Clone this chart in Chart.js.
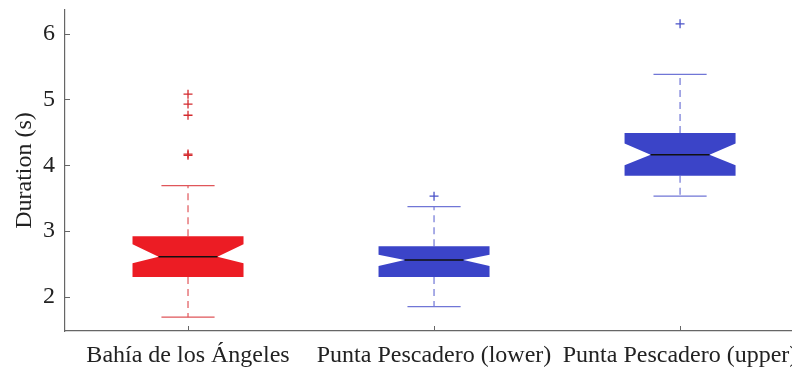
<!DOCTYPE html>
<html><head><meta charset="utf-8">
<script src="https://cdn.jsdelivr.net/npm/chart.js@4/dist/chart.umd.min.js"></script>
<style>html,body{margin:0;padding:0;background:#fff;}#wrap{width:792px;height:367px;}</style>
</head><body><div id="wrap"><canvas id="c" width="792" height="367"></canvas></div>
<script>
const categories = ["Bahía de los Ángeles", "Punta Pescadero (lower)", "Punta Pescadero (upper)"];
const whiskerLow  = [1.69, 1.85, 3.53];
const q1          = [2.30, 2.30, 3.84];
const notchLow    = [2.51, 2.47, 4.00];
const median      = [2.61, 2.56, 4.16];
const notchHigh   = [2.80, 2.64, 4.33];
const q3          = [2.92, 2.77, 4.49];
const whiskerHigh = [3.69, 3.37, 5.38];
const outliers    = [[5.08, 4.93, 4.76, 4.17, 4.15], [3.53], [6.15]];
const yTicks = [2, 3, 4, 5, 6];
const fillColors = ["#EC1C24", "#3B44C8", "#3B44C8"];
const lineColors = ["#E0565A", "#7076D6", "#7076D6"];
const pointColors = ["#D42A2E", "#4A52C8", "#4A52C8"];

const BOX_HW = 0.2256, CAP_HW = 0.108, NOTCH_IN = 0.106;

const boxPlugin = {
  id: 'boxes',
  beforeDatasetsDraw(chart) {
    const ctx = chart.ctx, xs = chart.scales.x, ys = chart.scales.y, a = chart.chartArea;
    ctx.save();
    ctx.beginPath(); ctx.rect(a.left, a.top, a.right - a.left, a.bottom - a.top); ctx.clip();
    categories.forEach((c, i) => {
      const cx = i + 1;
      const X = v => xs.getPixelForValue(v), Y = v => ys.getPixelForValue(v);
      ctx.strokeStyle = lineColors[i]; ctx.lineWidth = 1.2;
      ctx.setLineDash([7, 5]);
      ctx.beginPath();
      ctx.moveTo(X(cx), Y(q3[i])); ctx.lineTo(X(cx), Y(whiskerHigh[i]));
      ctx.moveTo(X(cx), Y(q1[i])); ctx.lineTo(X(cx), Y(whiskerLow[i]));
      ctx.stroke();
      ctx.setLineDash([]);
      ctx.beginPath();
      ctx.moveTo(X(cx - CAP_HW), Y(whiskerHigh[i])); ctx.lineTo(X(cx + CAP_HW), Y(whiskerHigh[i]));
      ctx.moveTo(X(cx - CAP_HW), Y(whiskerLow[i])); ctx.lineTo(X(cx + CAP_HW), Y(whiskerLow[i]));
      ctx.stroke();
      const L = cx - BOX_HW, R = cx + BOX_HW;
      ctx.fillStyle = fillColors[i];
      ctx.beginPath();
      ctx.moveTo(X(L), Y(q1[i]));
      ctx.lineTo(X(L), Y(notchLow[i]));
      ctx.lineTo(X(L + NOTCH_IN), Y(median[i]));
      ctx.lineTo(X(L), Y(notchHigh[i]));
      ctx.lineTo(X(L), Y(q3[i]));
      ctx.lineTo(X(R), Y(q3[i]));
      ctx.lineTo(X(R), Y(notchHigh[i]));
      ctx.lineTo(X(R - NOTCH_IN), Y(median[i]));
      ctx.lineTo(X(R), Y(notchLow[i]));
      ctx.lineTo(X(R), Y(q1[i]));
      ctx.closePath();
      ctx.fill();
      ctx.strokeStyle = "#111"; ctx.lineWidth = 1.5;
      ctx.beginPath();
      ctx.moveTo(X(L + NOTCH_IN), Y(median[i])); ctx.lineTo(X(R - NOTCH_IN), Y(median[i]));
      ctx.stroke();
    });
    ctx.restore();
    // inward tick marks
    ctx.save();
    ctx.strokeStyle = "#666"; ctx.lineWidth = 1;
    categories.forEach((c, i) => {
      const px = Math.round(xs.getPixelForValue(i + 1)) + 0.5;
      ctx.beginPath(); ctx.moveTo(px, a.bottom); ctx.lineTo(px, a.bottom - 5); ctx.stroke();
    });
    yTicks.forEach(v => {
      const py = Math.round(ys.getPixelForValue(v)) + 0.5;
      ctx.beginPath(); ctx.moveTo(a.left, py); ctx.lineTo(a.left + 5, py); ctx.stroke();
    });
    ctx.restore();
  }
};

const datasets = outliers.map((arr, i) => ({
  type: 'scatter',
  data: arr.map(v => ({x: i + 1, y: v})),
  pointStyle: 'cross',
  radius: 4.5,
  borderColor: pointColors[i],
  borderWidth: 1.3,
  backgroundColor: 'transparent'
}));

const font = {family: "'Liberation Serif', 'Times New Roman', serif", size: 24};

new Chart(document.getElementById('c'), {
  type: 'scatter',
  data: { datasets },
  plugins: [boxPlugin],
  options: {
    responsive: false, animation: false,
    layout: { autoPadding: false, padding: { top: 10, right: 0, left: 0, bottom: 0 } },
    plugins: { legend: { display: false }, tooltip: { enabled: false } },
    scales: {
      x: {
        type: 'linear', min: 0.5, max: 3.455,
        grid: { display: false, drawTicks: false },
        border: { display: true, color: '#666', width: 1.2 },
        afterBuildTicks: s => { s.ticks = [1, 2, 3].map(v => ({value: v})); },
        afterFit: s => { s.height = 36; s.paddingLeft = 0; s.paddingRight = 0; },
        ticks: { autoSkip: false, maxRotation: 0, padding: 10, color: '#222', font,
                 callback: v => categories[v - 1] }
      },
      y: {
        min: 1.48, max: 6.36,
        grid: { display: false, drawTicks: false },
        border: { display: true, color: '#666', width: 1.2 },
        afterBuildTicks: s => { s.ticks = yTicks.map(v => ({value: v})); },
        afterFit: s => { s.width = 65; s.paddingTop = 0; s.paddingBottom = 0; },
        ticks: { padding: 10, color: '#222', font },
        title: { display: true, text: 'Duration (s)', color: '#222', font, padding: { top: 10, bottom: 0 } }
      }
    }
  }
});
</script></body></html>
